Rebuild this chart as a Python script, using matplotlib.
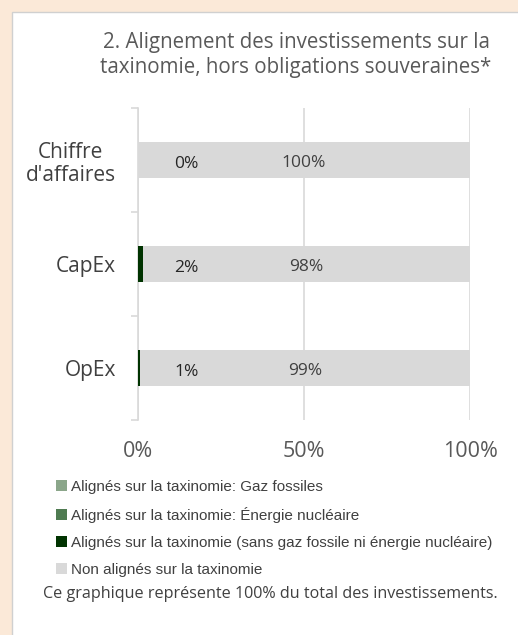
import numpy as np
import matplotlib.pyplot as plt
from matplotlib.patches import Rectangle, Patch

# data
categories = ["Chiffre\nd'affaires", "CapEx", "OpEx"]
gaz_fossiles = [0.0, 0.0, 0.0]
energie_nucleaire = [0.0, 0.0, 0.0]
alignes_sans = [0.0, 1.6, 0.6]
non_alignes = [100.0, 98.4, 99.4]
x_ticks = [0, 50, 100]
x_tick_labels = ["0%", "50%", "100%"]
legend_labels = [
    "Alignés sur la taxinomie: Gaz fossiles",
    "Alignés sur la taxinomie: Énergie nucléaire",
    "Alignés sur la taxinomie (sans gaz fossile ni énergie nucléaire)",
    "Non alignés sur la taxinomie",
]
title = "2. Alignement des investissements sur la\ntaxinomie, hors obligations souveraines*"
footnote = "Ce graphique représente 100% du total des investissements."

colors = ["#8BA68A", "#4F7B51", "#003300", "#D9D9D9"]
text_color = "#595959"
main_font = "Open Sans"

fig = plt.figure(figsize=(5.18, 6.35), dpi=100)
fig.patch.set_facecolor("#FBE9D8")
# white card behind everything
fig.patches.append(Rectangle((12 / 518, -0.01), 1, 1 - 12 / 635 + 0.01, transform=fig.transFigure,
                             facecolor="white", edgecolor="#D0D0D0", linewidth=1, zorder=-5))

ax = fig.add_axes([138 / 518, 1 - 420 / 635, 332 / 518, 312 / 635])
ax.set_facecolor("none")

y = np.arange(len(categories))
h = 0.34
left = np.zeros(len(categories))
for vals, c in zip([gaz_fossiles, energie_nucleaire, alignes_sans, non_alignes], colors):
    ax.barh(y, vals, left=left, height=h, color=c, zorder=3)
    left += np.array(vals)

# value labels
for i in range(len(categories)):
    aligned = gaz_fossiles[i] + energie_nucleaire[i] + alignes_sans[i]
    ax.text(14.5, y[i] + 0.04, f"{aligned:.0f}%", ha="center", va="center",
            fontsize=12.5, color="#262626", family=main_font, zorder=4)
    ax.text(aligned + non_alignes[i] / 2, y[i] + 0.03, f"{non_alignes[i]:.0f}%", ha="center",
            va="center", fontsize=12.5, color="#404040", family=main_font, zorder=4)

ax.set_xlim(0, 100)
ax.set_ylim(2.5, -0.5)
ax.set_xticks(x_ticks)
ax.set_xticklabels(x_tick_labels, fontsize=15.5, color=text_color, family=main_font)
ax.tick_params(axis="x", length=0, pad=15)
ax.grid(axis="x", color="#D9D9D9", linewidth=1.2, zorder=0)

ax.set_yticks(y)
ax.set_yticklabels(categories, fontsize=15, color="#404040", family=main_font,
                   multialignment="center")
for lab in ax.get_yticklabels():
    lab.set_linespacing(1.15)
ax.tick_params(axis="y", which="major", length=0, pad=16)
ax.set_yticks([-0.5, 0.5, 1.5, 2.5], minor=True)
ax.tick_params(axis="y", which="minor", length=5, color="#D9D9D9", width=1.2)

for s in ["top", "right", "bottom"]:
    ax.spines[s].set_visible(False)
ax.spines["left"].set_color("#D9D9D9")
ax.spines["left"].set_linewidth(1.2)

fig.text(296 / 518, 1 - 55 / 635, title, ha="center", va="center", fontsize=14.8,
         color=text_color, family=main_font, linespacing=1.25)

handles = [Patch(facecolor=c, edgecolor="none") for c in colors]
fig.legend(handles, legend_labels, loc="upper left", bbox_to_anchor=(56 / 518, 1 - 480 / 635),
           frameon=False, prop={"family": "Liberation Sans", "size": 11},
           handlelength=0.75, handleheight=0.75, handletextpad=0.2, labelspacing=0.85,
           borderaxespad=0, borderpad=0, labelcolor="#404040")

fig.text(270 / 518, 1 - 594 / 635, footnote, ha="center", va="center", fontsize=11.6,
         color="#404040", family=main_font)

fig.savefig("out.png", dpi=100, facecolor=fig.get_facecolor())
